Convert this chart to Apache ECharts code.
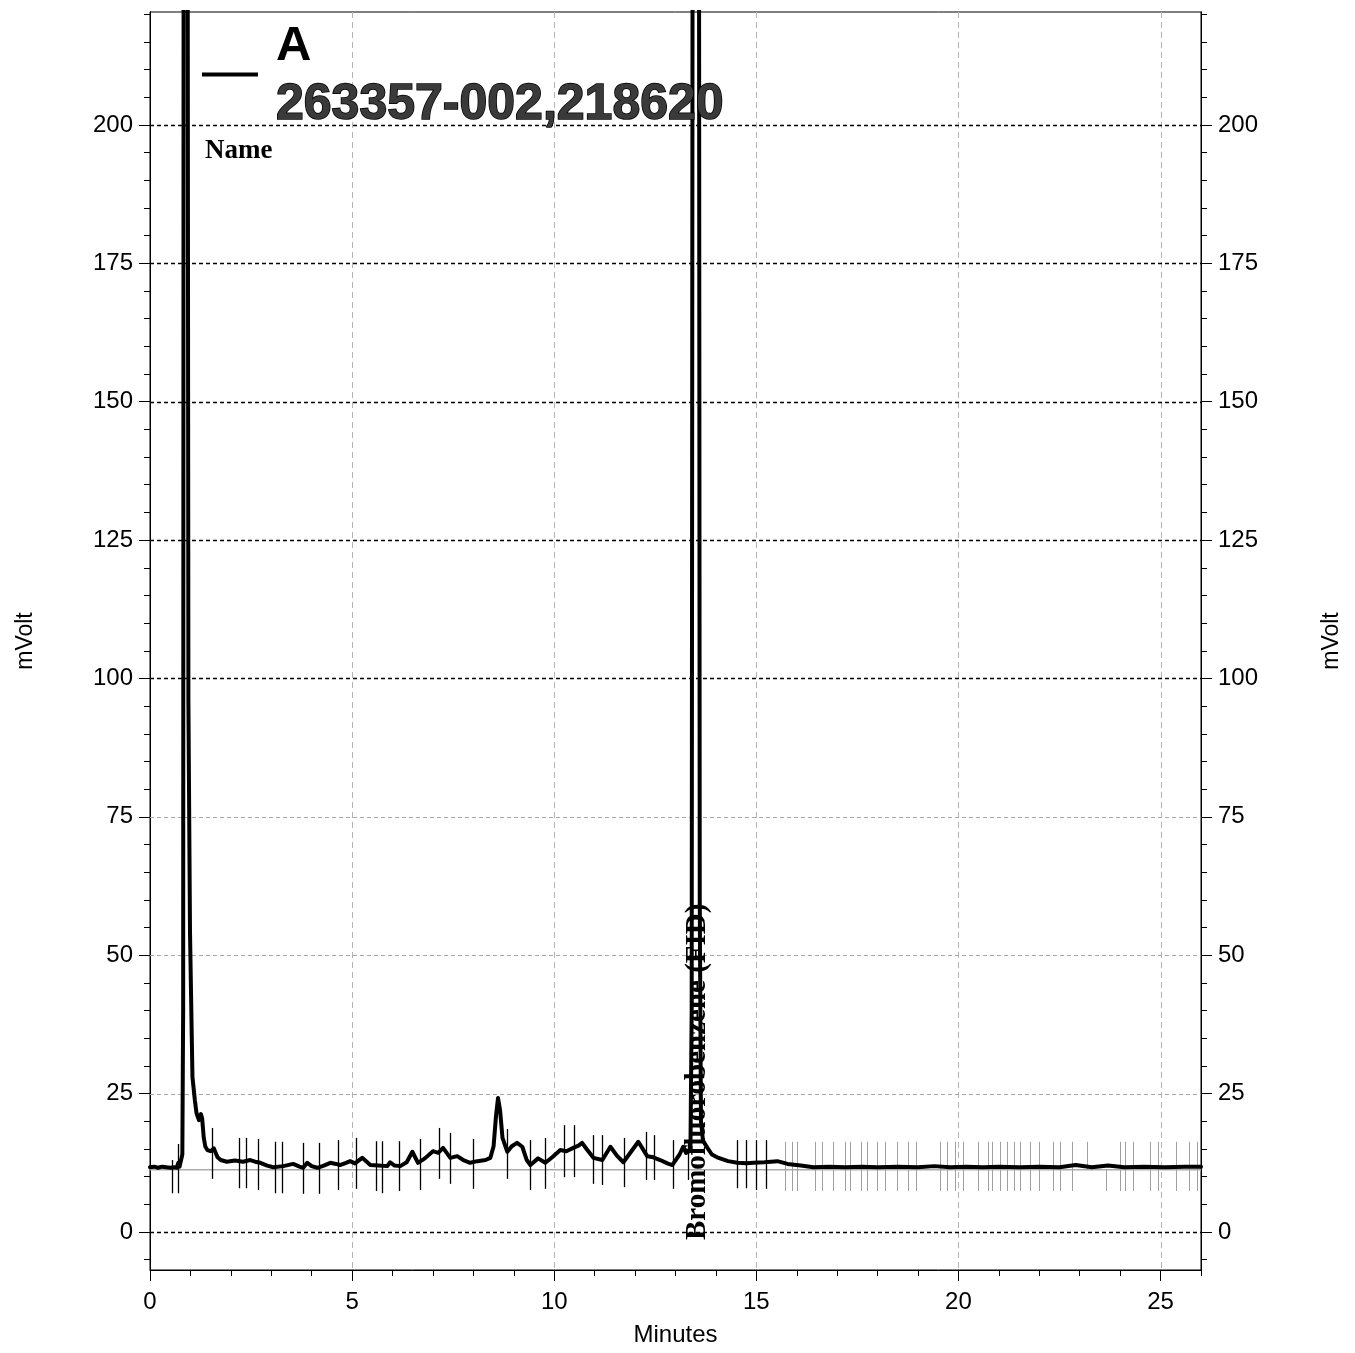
<!DOCTYPE html>
<html><head><meta charset="utf-8">
<script src="https://cdn.jsdelivr.net/npm/echarts@6/dist/echarts.min.js"></script>
<style>html,body{margin:0;padding:0;background:#fff}#c{width:1355px;height:1353px}</style>
</head><body><div id="c"></div>
<script>
// ---- data ----
const traceTime = [0.00,0.10,0.20,0.30,0.40,0.50,0.60,0.66,0.70,0.73,0.77,0.80,0.82,0.835,0.85,0.88,0.91,0.95,0.99,1.05,1.11,1.15,1.21,1.26,1.29,1.33,1.37,1.42,1.50,1.58,1.62,1.67,1.75,1.90,2.10,2.30,2.48,2.60,2.73,2.90,3.05,3.30,3.54,3.70,3.79,3.89,4.00,4.14,4.30,4.46,4.60,4.70,4.85,4.95,5.07,5.25,5.45,5.65,5.87,5.94,6.05,6.19,6.35,6.49,6.63,6.80,7.00,7.13,7.25,7.43,7.60,7.75,7.92,8.10,8.30,8.42,8.50,8.56,8.61,8.66,8.72,8.84,8.95,9.08,9.21,9.32,9.41,9.60,9.78,9.95,10.15,10.30,10.47,10.60,10.69,10.80,10.97,11.19,11.39,11.55,11.71,11.90,12.08,12.30,12.45,12.62,12.80,12.92,13.10,13.19,13.26,13.32,13.37,13.40,13.43,13.47,13.53,13.575,13.60,13.63,13.68,13.79,13.90,14.03,14.30,14.53,14.75,14.93,15.20,15.52,15.77,16.10,16.41,16.80,17.20,17.60,18.00,18.50,19.00,19.40,19.80,20.20,20.60,21.00,21.50,22.00,22.50,22.90,23.30,23.70,24.10,24.60,25.10,25.60,26.00];
const traceMv = [11.7,11.8,11.6,11.8,11.7,11.6,11.7,11.6,12.5,11.8,11.9,14,40,300,1500,1500,400,96,54,28,23.8,21.5,20.2,21.3,20.5,17.0,15.4,14.8,14.6,15.1,14.8,13.5,13.0,12.7,12.9,12.7,13.0,12.7,12.5,12.0,11.7,11.9,12.3,11.8,11.6,12.5,11.9,11.6,12.0,12.5,12.3,12.1,12.5,12.8,12.4,13.4,12.1,12.0,11.9,12.6,12.0,11.9,12.6,14.5,12.5,13.3,14.6,14.3,15.2,13.4,13.7,13.0,12.5,12.8,13.0,13.4,15.5,21,24.2,22,17,14.5,15.5,16.1,15.4,13,12.1,13.3,12.5,13.5,14.8,14.6,15.2,15.6,16.1,15.0,13.4,13.0,15.4,13.8,12.6,14.5,16.3,13.7,13.5,13.0,12.4,12.1,14.0,15.4,14.3,14.5,15,40,300,3000,3000,300,60,20,16.5,15.2,14.0,13.5,12.8,12.5,12.4,12.5,12.6,12.8,12.3,12.0,11.7,11.8,11.7,11.8,11.7,11.8,11.7,11.9,11.7,11.8,11.7,11.8,11.7,11.8,11.7,12.1,11.7,12.0,11.7,11.8,11.7,11.8,11.8];

const xMajorTicks = [0,5,10,15,20,25];
const xMinorTicks = [1,2,3,4,6,7,8,9,11,12,13,14,16,17,18,19,21,22,23,24,26];
const yMajorTicks = [0,25,50,75,100,125,150,175,200];
const yMinorTicks = [-5,5,10,15,20,30,35,40,45,55,60,65,70,80,85,90,95,105,110,115,120,130,135,140,145,155,160,165,170,180,185,190,195,205,210,215,220];
const gridDarkMv = [0,100,125,150,175,200];
const gridLightMv = [25,50,75];
const gridMinutes = [5,10,15,20,25];
const baselineMv = 11.25;

const blackMarkTime = [0.55,0.70,1.54,2.21,2.38,2.68,3.10,3.27,3.79,4.17,4.64,5.09,5.58,5.73,6.15,6.67,7.16,7.41,8.00,8.84,9.39,9.76,10.25,10.50,10.97,11.18,11.72,12.26,12.48,12.95,13.30,14.52,14.75,14.99,15.24];
const blackMarkTop = [13.0,15.9,18.8,17.0,17.0,16.8,16.3,16.3,16.1,16.1,16.6,17.0,16.4,16.4,16.4,16.8,18.8,17.9,16.8,18.6,16.6,17.0,19.3,19.3,17.5,17.5,17.0,18.1,17.5,16.6,16.6,16.6,16.6,16.6,16.6];
const blackMarkBottom = [7.0,7.0,9.6,7.9,7.9,7.6,7.0,7.0,6.9,6.9,7.6,7.8,7.4,7.0,7.4,7.6,9.6,8.7,7.8,9.6,7.6,7.8,9.9,9.9,8.7,8.5,8.1,9.4,9.4,7.8,9.4,7.9,7.9,7.6,7.8];
const greyMarkTime = [15.70,15.87,16.00,16.44,16.63,16.89,17.19,17.31,17.59,17.74,17.99,18.18,18.48,18.74,18.95,19.55,19.72,19.91,20.11,20.49,20.73,20.83,21.02,21.21,21.37,21.51,21.78,21.99,22.34,22.50,22.81,23.17,23.66,23.99,24.13,24.31,24.73,24.93,25.37,25.70,25.91];
const greyMarkTop = [16.3,16.3,16.3,16.3,16.3,16.3,16.3,16.3,16.3,16.3,16.3,16.3,16.3,16.3,16.3,16.3,16.3,16.3,16.3,16.3,16.3,16.3,16.3,16.3,16.3,16.3,16.3,16.3,16.3,16.3,16.3,16.3,11.3,16.3,16.3,16.3,16.3,16.3,16.3,16.3,16.3];
const greyMarkBottom = [7.4,7.4,7.4,7.4,7.4,7.4,7.4,7.4,7.4,7.4,7.4,7.4,7.4,7.4,7.4,7.4,7.4,7.4,7.4,7.4,7.4,7.4,7.4,7.4,7.4,7.4,7.4,7.4,7.4,7.4,7.4,11.3,7.4,7.4,7.4,7.4,7.4,7.4,7.4,7.4,7.4];

const peakLabelTime = [13.54];
const peakLabelMv = [-1.45];
const peakLabelText = ['Bromofluorobenzene (FID)'];
const legendSeries = 'A';
const legendSample = '263357-002,218620';
const legendHeader = 'Name';
const xAxisName = 'Minutes';
const yAxisName = 'mVolt';

// ---- chart ----
const SANS = '"Liberation Sans", Arial, sans-serif';
const SERIF = '"Liberation Serif", "Times New Roman", serif';
const Y_MIN = -6.865, Y_MAX = 220.4;

const chart = echarts.init(document.getElementById('c'), null, {renderer: 'canvas'});

function yAxisCfg(pos, major) {
  return {
    type: 'value', position: pos, min: Y_MIN, max: Y_MAX, offset: 0,
    axisLine: {show: true, onZero: false, lineStyle: {color: '#000', width: 1}},
    axisTick: {show: true, inside: false, length: major ? 11 : 6, customValues: major ? yMajorTicks : yMinorTicks, lineStyle: {color: '#000', width: 1}},
    axisLabel: major ? {show: true, customValues: yMajorTicks, color: '#000', fontSize: 24, fontFamily: SANS, margin: 17} : {show: false},
    splitLine: {show: false},
    name: major ? yAxisName : '', nameLocation: 'middle', nameRotate: 90,
    nameGap: pos === 'left' ? 113 : 119,
    nameTextStyle: {color: '#000', fontSize: 23, fontFamily: SANS}
  };
}

const option = {
  animation: false,
  backgroundColor: '#fff',
  grid: {left: 150, top: 12, width: 1051, height: 1258, show: true, borderColor: '#000', borderWidth: 1, backgroundColor: 'transparent', outerBoundsMode: 'none', containLabel: false},
  xAxis: [
    {type: 'value', position: 'bottom', min: 0, max: 26, offset: 0,
     axisLine: {show: true, onZero: false, lineStyle: {color: '#000', width: 1}},
     axisTick: {show: true, length: 11, customValues: xMajorTicks, lineStyle: {color: '#000'}},
     axisLabel: {show: true, customValues: xMajorTicks, color: '#000', fontSize: 24, fontFamily: SANS, margin: 20},
     splitLine: {show: false},
     name: xAxisName, nameLocation: 'middle', nameGap: 53,
     nameTextStyle: {color: '#000', fontSize: 24, fontFamily: SANS}},
    {type: 'value', position: 'bottom', min: 0, max: 26, offset: 0,
     axisLine: {show: false, onZero: false},
     axisTick: {show: true, length: 6, customValues: xMinorTicks, lineStyle: {color: '#000'}},
     axisLabel: {show: false}, splitLine: {show: false}}
  ],
  yAxis: [yAxisCfg('left', true), yAxisCfg('left', false), yAxisCfg('right', true), yAxisCfg('right', false)],
  series: [
    { // grid lines
      type: 'custom', xAxisIndex: 0, yAxisIndex: 0, silent: true, z: 1, clip: false,
      data: [
        ...gridMinutes.map(m => [m, 0, 0]),
        ...gridLightMv.map(v => [0, v, 1]),
        ...gridDarkMv.map(v => [0, v, 2])
      ],
      renderItem: function (params, api) {
        const cs = params.coordSys;
        const kind = api.value(2);
        if (kind === 0) {
          const x = Math.round(api.coord([api.value(0), 0])[0]) + 0.5;
          return {type: 'line', shape: {x1: x, y1: cs.y, x2: x, y2: cs.y + cs.height},
            style: {stroke: '#b4b4b4', lineWidth: 1, lineDash: [6, 4]}};
        }
        const y = Math.round(api.coord([0, api.value(1)])[1]) + 0.5;
        return {type: 'line', shape: {x1: cs.x, y1: y, x2: cs.x + cs.width, y2: y},
          style: kind === 2 ? {stroke: '#000', lineWidth: 1.5, lineDash: [4, 3]} : {stroke: '#a8a8a8', lineWidth: 1, lineDash: [4, 3]}};
      }
    },
    { // integration baseline
      type: 'line', xAxisIndex: 0, yAxisIndex: 0, z: 2, silent: true, showSymbol: false,
      data: [[0, baselineMv], [26, baselineMv]],
      lineStyle: {color: '#ababab', width: 1.5}
    },
    { // grey peak markers
      type: 'custom', xAxisIndex: 0, yAxisIndex: 0, silent: true, z: 3,
      data: greyMarkTime.map((t, i) => [t, greyMarkTop[i], greyMarkBottom[i]]),
      renderItem: function (params, api) {
        const p1 = api.coord([api.value(0), api.value(1)]);
        const p2 = api.coord([api.value(0), api.value(2)]);
        const x = Math.round(p1[0]) + 0.5;
        return {type: 'line', shape: {x1: x, y1: p1[1], x2: x, y2: p2[1]}, style: {stroke: '#a0a0a0', lineWidth: 1}};
      }
    },
    { // black peak markers
      type: 'custom', xAxisIndex: 0, yAxisIndex: 0, silent: true, z: 3,
      data: blackMarkTime.map((t, i) => [t, blackMarkTop[i], blackMarkBottom[i]]),
      renderItem: function (params, api) {
        const p1 = api.coord([api.value(0), api.value(1)]);
        const p2 = api.coord([api.value(0), api.value(2)]);
        const x = Math.round(p1[0]) + 0.5;
        return {type: 'line', shape: {x1: x, y1: p1[1], x2: x, y2: p2[1]}, style: {stroke: '#000', lineWidth: 1.3}};
      }
    },
    { // chromatogram trace
      type: 'line', name: legendSeries, xAxisIndex: 0, yAxisIndex: 0, z: 5,
      showSymbol: false, clip: true, silent: true,
      data: traceTime.map((t, i) => [t, traceMv[i]]),
      lineStyle: {color: '#000', width: 4, join: 'round', cap: 'round'}
    },
    { // peak label
      type: 'custom', xAxisIndex: 0, yAxisIndex: 0, silent: true, z: 6, clip: false,
      data: peakLabelTime.map((t, i) => [t, peakLabelMv[i], i]),
      renderItem: function (params, api) {
        const p = api.coord([api.value(0), api.value(1)]);
        return {type: 'text', x: p[0], y: p[1], rotation: Math.PI / 2,
          style: {text: peakLabelText[api.value(2)], font: 'bold 29px ' + SERIF, fill: '#000', align: 'left', verticalAlign: 'middle'}};
      }
    }
  ],
  graphic: [
    {type: 'line', z: 100, shape: {x1: 202, y1: 74.5, x2: 258, y2: 74.5}, style: {stroke: '#000', lineWidth: 4}},
    {type: 'text', z: 100, x: 276, y: 46, style: {text: legendSeries, font: 'bold 49px ' + SANS, fill: '#000', align: 'left', verticalAlign: 'middle'}},
    {type: 'text', z: 100, x: 276, y: 105, style: {text: legendSample, font: 'bold 50px ' + SANS, fill: '#3a3a3a', stroke: '#000', lineWidth: 1.5, align: 'left', verticalAlign: 'middle'}},
    {type: 'text', z: 100, x: 205, y: 151, style: {text: legendHeader, font: 'bold 27px ' + SERIF, fill: '#000', align: 'left', verticalAlign: 'middle'}}
  ]
};
chart.setOption(option);
</script>
</body></html>
